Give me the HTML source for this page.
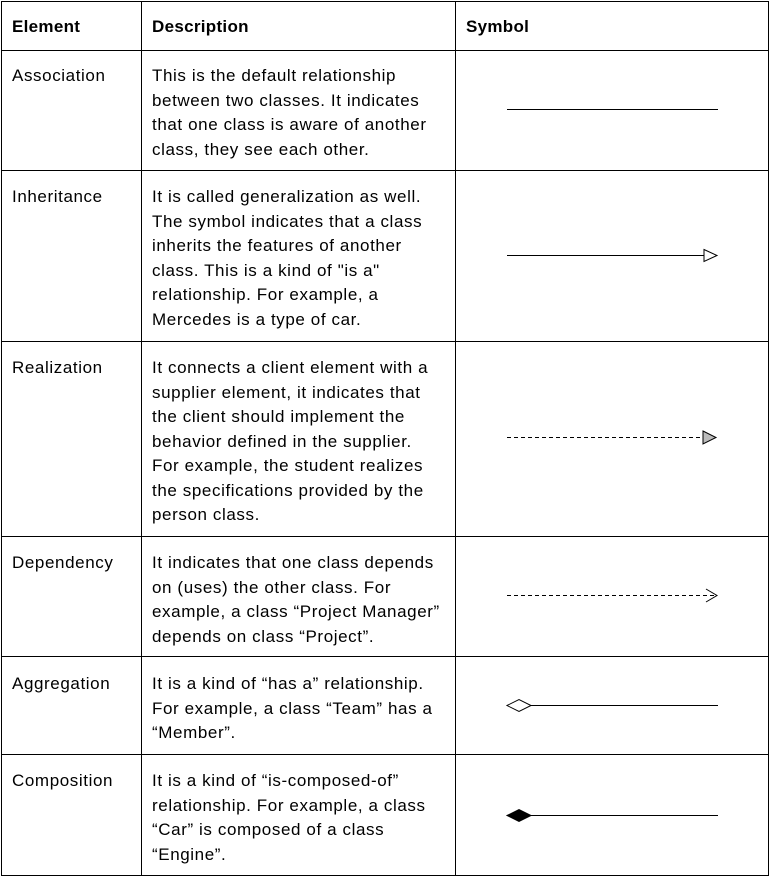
<!DOCTYPE html>
<html><head><style>
body{margin:0;background:#fff;width:770px;height:877px;position:relative;overflow:hidden;font-family:"Liberation Sans",sans-serif;font-size:17px;letter-spacing:0.6px;color:#000}
.t{position:absolute;white-space:nowrap;line-height:24.5px}
b{font-weight:bold;letter-spacing:0.3px}
</style></head><body>
<svg width="770" height="877" style="position:absolute;left:0;top:0">
<g stroke="#000" stroke-width="1" fill="none" shape-rendering="crispEdges">
<rect x="1.5" y="1.5" width="767" height="874"/>
<line x1="141.5" y1="1" x2="141.5" y2="876"/>
<line x1="455.5" y1="1" x2="455.5" y2="876"/>
<line x1="1" y1="50.5" x2="769" y2="50.5"/>
<line x1="1" y1="170.5" x2="769" y2="170.5"/>
<line x1="1" y1="341.5" x2="769" y2="341.5"/>
<line x1="1" y1="536.5" x2="769" y2="536.5"/>
<line x1="1" y1="656.5" x2="769" y2="656.5"/>
<line x1="1" y1="754.5" x2="769" y2="754.5"/>
</g>
<g stroke="#000" stroke-width="1" fill="none">
<line x1="507" y1="109.5" x2="718" y2="109.5"/>
<line x1="507" y1="255.5" x2="704" y2="255.5"/>
<polygon points="704,249.5 717,255.5 704,261.5" fill="#fff"/>
<line x1="507" y1="437.5" x2="703" y2="437.5" stroke-dasharray="4,3"/>
<polygon points="703,431 716,437.5 703,444" fill="#bbb"/>
<line x1="507" y1="595.5" x2="716" y2="595.5" stroke-dasharray="4,3"/>
<polyline points="706,589 717,595.5 706,602"/>
<polygon points="507,705.5 519,699.5 531,705.5 519,711.5" fill="#fff"/>
<line x1="531" y1="705.5" x2="718" y2="705.5"/>
<polygon points="507,815.5 519,809.5 531,815.5 519,821.5" fill="#000"/>
<line x1="531" y1="815.5" x2="718" y2="815.5"/>
</g>
</svg>
<div class="t" style="left:12px;top:15px"><b>Element</b></div>
<div class="t" style="left:152px;top:15px"><b>Description</b></div>
<div class="t" style="left:466px;top:15px"><b>Symbol</b></div>

<div class="t" style="left:12px;top:64px">Association</div>
<div class="t" style="left:152px;top:64px">This is the default relationship<br>between two classes. It indicates<br>that one class is aware of another<br>class, they see each other.</div>

<div class="t" style="left:12px;top:185px">Inheritance</div>
<div class="t" style="left:152px;top:185px">It is called generalization as well.<br>The symbol indicates that a class<br>inherits the features of another<br>class. This is a kind of "is a"<br>relationship. For example, a<br>Mercedes is a type of car.</div>

<div class="t" style="left:12px;top:356px">Realization</div>
<div class="t" style="left:152px;top:356px">It connects a client element with a<br>supplier element, it indicates that<br>the client should implement the<br>behavior defined in the supplier.<br>For example, the student realizes<br>the specifications provided by the<br>person class.</div>

<div class="t" style="left:12px;top:551px">Dependency</div>
<div class="t" style="left:152px;top:551px">It indicates that one class depends<br>on (uses) the other class. For<br>example, a class “Project Manager”<br>depends on class “Project”.</div>

<div class="t" style="left:12px;top:672px">Aggregation</div>
<div class="t" style="left:152px;top:672px">It is a kind of “has a” relationship.<br>For example, a class “Team” has a<br>“Member”.</div>

<div class="t" style="left:12px;top:769px">Composition</div>
<div class="t" style="left:152px;top:769px">It is a kind of “is-composed-of”<br>relationship. For example, a class<br>“Car” is composed of a class<br>“Engine”.</div>
</body></html>
